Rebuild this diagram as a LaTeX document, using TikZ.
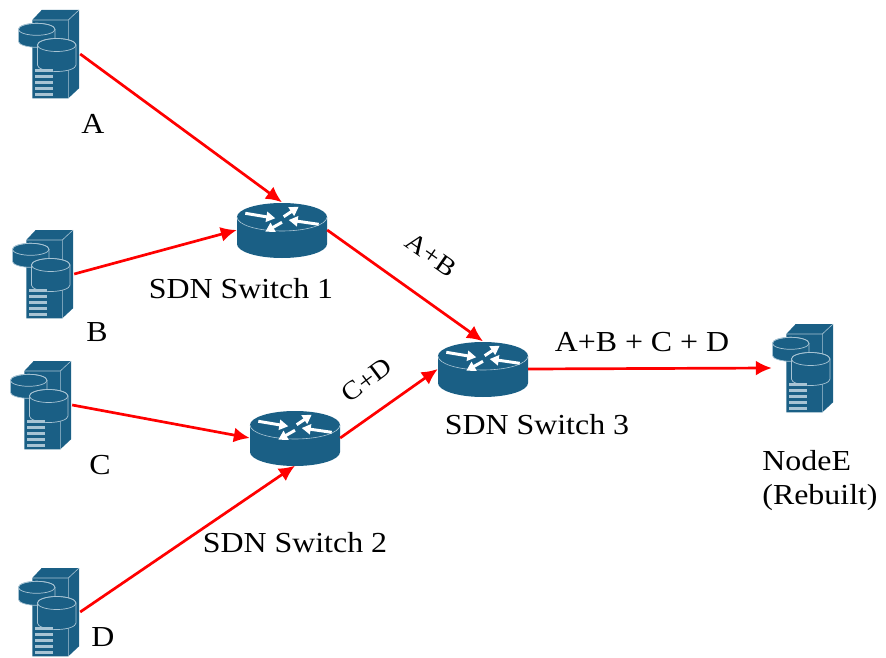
\documentclass[tikz,border=0pt]{standalone}
\usepackage{fontspec}
\setmainfont[FakeStretch=1.1]{Liberation Serif}
\usetikzlibrary{arrows.meta}
\definecolor{devblue}{HTML}{1A5F85}
\definecolor{devline}{HTML}{A8C4D4}
\newcommand\diskshape[5]{% x, y, x radius, y radius, depth
  \filldraw[fill=devblue,draw=devline,line width=0.7pt]
    (#1-#3,#2) -- (#1-#3,#2+#5) arc[start angle=180,end angle=0,x radius=#3,y radius=#4]
    -- (#1+#3,#2) arc[start angle=0,end angle=-180,x radius=#3,y radius=#4] -- cycle;
  \draw[devline,line width=0.7pt] (#1,#2) circle[x radius=#3,y radius=#4];
}
\tikzset{
    serverbox/.style={minimum width=62pt,minimum height=88pt,inner sep=0pt},
    switchbox/.style={minimum width=90pt,minimum height=55pt,inner sep=0pt},
    flow/.style={red,line width=2.7pt,-{Latex[length=16pt,width=15pt]}},
    label/.style={font=\fontsize{29}{34}\selectfont,inner sep=0pt},
    tilted/.style={font=\fontsize{26}{30}\selectfont,inner sep=0pt},
    server/.pic={
      \fill[devblue] (-16.7,-34) -- (-7.3,-44) -- (30,-44) -- (30,34.3) -- (19.3,44.3) -- (-16.7,44.3) -- cycle;
      \draw[devline,line width=0.6pt] (-16.7,-34) -- (19.3,-34) -- (30,-44) (19.3,-34) -- (19.3,44.3);
      \diskshape{-12.3}{-24.7}{18.3}{6}{12}
      \diskshape{7.7}{-9}{19.3}{6.5}{20}
      \foreach \y in {15,21,27,33,39}
        \fill[devline] (-14.5,\y) rectangle (3.7,\y+3);
    },
    router/.pic={
      \fill[devblue] (-45,-13) -- (-45,14) arc[start angle=180,end angle=0,x radius=45,y radius=14]
        -- (45,-13) arc[start angle=0,end angle=-180,x radius=45,y radius=14] -- cycle;
      \draw[devline,line width=0.6pt] (-45,-13) arc[start angle=180,end angle=0,x radius=45,y radius=14];
      \foreach \xa/\ya/\xb/\yb in {-36.7/-16.7/-6.7/-11.7,1.7/-13.3/16.7/-23.3,0/-7.7/-16.7/1.7,36.7/-5.7/6.7/-10}
        \draw[white,line width=3pt,-{Triangle[length=9pt,width=10pt]}] (\xa,\ya) -- (\xb,\yb);
    }
}
\begin{document}
\begin{tikzpicture}[x=1pt,y=-1pt]
  \useasboundingbox (0,0) rectangle (886,658);

  % servers
  \foreach \name/\x/\y in {srvA/49/54,srvB/43/274,srvC/41/405,srvD/49/612,srvE/803/368}{
    \node[serverbox] (\name) at (\x,\y) {};
    \pic at (\x,\y) {server};
  }
  % switches
  \foreach \name/\x/\y in {swOne/282/230,swTwo/295/438,swThree/483/369}{
    \node[switchbox] (\name) at (\x,\y) {};
    \pic at (\x,\y) {router};
  }

  \draw[flow] (srvA.east) -- (swOne.north);
  \draw[flow] (srvB.east) -- (swOne.west);
  \draw[flow] (srvC.east) -- (swTwo.west);
  \draw[flow] (srvD.east) -- (swTwo.south);
  \draw[flow] (swOne.east) -- (swThree.north);
  \draw[flow] (swTwo.east) -- (swThree.west);
  \draw[flow] (swThree.east) -- (srvE.west);

  \node[label] (lblA) at (93,124) {A};
  \node[label] (lblB) at (97,332) {B};
  \node[label] (lblC) at (100,465) {C};
  \node[label] (lblD) at (103,637) {D};
  \node[label] (lblOne) at (241,289) {SDN Switch 1};
  \node[label] (lblTwo) at (295,543) {SDN Switch 2};
  \node[label] (lblThree) at (537,425) {SDN Switch 3};
  \node[tilted,rotate=-35] (lblAB) at (431,255) {A+B};
  \node[tilted,rotate=37] (lblCD) at (367,380) {C+D};
  \node[label] (lblSum) at (642,342) {A+B + C + D};
  \node[label,align=left] (lblE) at (820,481) {NodeE\\(Rebuilt)};

\end{tikzpicture}
\end{document}
